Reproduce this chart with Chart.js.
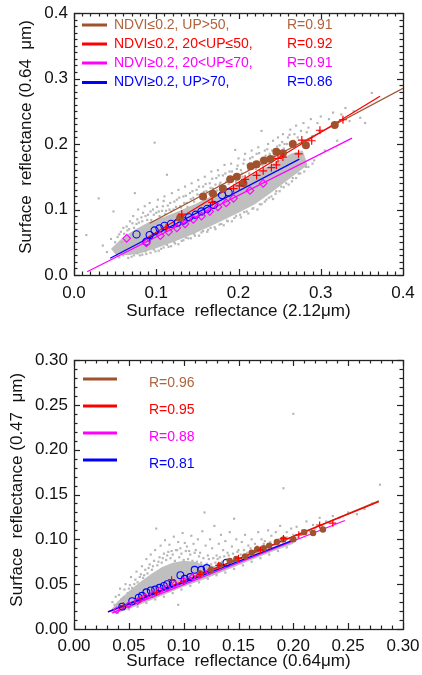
<!DOCTYPE html>
<html><head><meta charset="utf-8">
<script src="https://cdn.jsdelivr.net/npm/chart.js@4.4.1/dist/chart.umd.min.js"></script>
<style>
html,body{margin:0;padding:0;background:#fff;}
#wrap{position:relative;width:422px;height:675px;overflow:hidden;}
#c1{position:absolute;left:0;top:0;}
#c2{position:absolute;left:0;top:337px;}
</style></head><body>
<div id="wrap"><canvas id="c1" width="422" height="337"></canvas><canvas id="c2" width="422" height="338"></canvas></div>
<script>
// ---------------- DATA: top panel (0.64 vs 2.12 um) ----------------
const topXTicks = [0, 0.1, 0.2, 0.3, 0.4];
const topXTickLabels = ['0.0', '0.1', '0.2', '0.3', '0.4'];
const topYTicks = [0, 0.1, 0.2, 0.3, 0.4];
const topYTickLabels = ['0.0', '0.1', '0.2', '0.3', '0.4'];
const topXTitle = 'Surface  reflectance (2.12\u03bcm)';
const topYTitle = '\u00a0\u00a0\u00a0Surface  reflectance (0.64  \u03bcm)';
const topLegendLabels = ['NDVI\u22640.2, UP>50,', 'NDVI\u22640.2, 20<UP\u226450,', 'NDVI\u22650.2, 20<UP\u226470,', 'NDVI\u22650.2, UP>70,'];
const topLegendR = ['R=0.91', 'R=0.92', 'R=0.91', 'R=0.86'];

// dense core of the grey cloud (outline)
const topCore = [[0.045,0.040],[0.06,0.058],[0.075,0.070],[0.09,0.080],[0.11,0.089],[0.13,0.099],[0.15,0.110],[0.17,0.122],[0.19,0.134],[0.21,0.148],[0.23,0.162],[0.25,0.176],[0.265,0.186],[0.278,0.19],
  [0.284,0.168],[0.26,0.145],[0.24,0.126],[0.22,0.108],[0.20,0.095],[0.18,0.083],[0.16,0.071],[0.14,0.060],[0.12,0.050],[0.10,0.041],[0.08,0.033],[0.065,0.030],[0.05,0.032]];
// scattered grey pixels (outer)
const topGray = [[0.015,0.061],[0.03,0.117],[0.035,0.045],[0.04,0.035],[0.045,0.055],[0.048,0.097],[0.052,0.03],[0.055,0.062],[0.058,0.05],[0.06,0.072],
  [0.062,0.038],[0.065,0.068],[0.068,0.082],[0.07,0.028],[0.072,0.09],[0.074,0.125],[0.076,0.078],[0.078,0.1],[0.08,0.03],[0.082,0.088],[0.084,0.095],[0.086,0.105],[0.088,0.032],[0.09,0.092],[0.092,0.11],[0.094,0.084],[0.096,0.1],[0.098,0.202],[0.099,0.036],
  [0.1,0.095],[0.102,0.115],[0.104,0.09],[0.106,0.04],[0.108,0.105],[0.11,0.12],[0.112,0.098],[0.113,0.153],[0.115,0.043],[0.117,0.11],[0.119,0.125],[0.121,0.1],[0.123,0.048],[0.125,0.115],[0.127,0.13],[0.129,0.105],[0.131,0.052],[0.133,0.12],[0.135,0.135],[0.137,0.11],[0.139,0.056],
  [0.141,0.125],[0.143,0.14],[0.145,0.118],[0.147,0.06],[0.149,0.13],[0.151,0.145],[0.153,0.122],[0.155,0.065],[0.157,0.135],[0.159,0.15],[0.161,0.128],[0.163,0.069],[0.165,0.14],[0.167,0.158],[0.169,0.132],[0.171,0.073],[0.173,0.148],[0.175,0.16],[0.177,0.138],[0.179,0.078],[0.181,0.152],[0.183,0.168],[0.185,0.142],[0.187,0.082],[0.189,0.158],[0.191,0.17],[0.193,0.145],[0.195,0.087],[0.196,0.191],[0.198,0.162],
  [0.2,0.178],[0.202,0.092],[0.204,0.155],[0.206,0.17],[0.208,0.185],[0.21,0.097],[0.212,0.162],[0.214,0.178],[0.216,0.19],[0.218,0.102],[0.22,0.168],[0.222,0.185],[0.224,0.195],[0.226,0.108],[0.228,0.22],[0.23,0.178],[0.232,0.19],[0.234,0.115],[0.236,0.2],[0.238,0.185],[0.24,0.12],[0.242,0.205],[0.244,0.192],[0.246,0.128],[0.248,0.21],[0.25,0.198],[0.252,0.135],[0.254,0.215],[0.256,0.2],[0.258,0.14],
  [0.26,0.21],[0.263,0.222],[0.266,0.148],[0.268,0.215],[0.27,0.228],[0.273,0.155],[0.276,0.22],[0.279,0.232],[0.282,0.165],[0.285,0.225],[0.288,0.238],[0.292,0.175],[0.296,0.232],[0.3,0.242],[0.305,0.19],[0.31,0.238],[0.315,0.248],[0.32,0.205],[0.325,0.245],[0.33,0.255],[0.335,0.235],[0.34,0.25],[0.348,0.24],[0.354,0.232],[0.362,0.278]];
// scattered grey pixels (fringe of the core)
const topGrayFringe = [[0.05,0.05],[0.053,0.058],[0.057,0.066],[0.061,0.063],[0.064,0.074],[0.067,0.07],[0.071,0.079],[0.073,0.072],[0.077,0.085],[0.079,0.08],[0.083,0.082],[0.087,0.09],[0.089,0.084],[0.093,0.097],[0.097,0.092],[0.101,0.104],[0.103,0.097],[0.107,0.098],[0.109,0.113],[0.111,0.093],[0.114,0.106],[0.116,0.1],[0.118,0.097],[0.122,0.112],[0.124,0.104],[0.128,0.118],[0.13,0.103],[0.134,0.11],[0.136,0.121],[0.138,0.104],[0.142,0.116],[0.144,0.128],[0.146,0.112],[0.15,0.123],[0.152,0.135],[0.154,0.117],[0.158,0.127],[0.16,0.139],[0.164,0.124],[0.166,0.133],[0.168,0.147],[0.172,0.138],[0.174,0.129],[0.176,0.152],[0.178,0.141],[0.182,0.135],[0.184,0.155],[0.186,0.146],[0.188,0.139],[0.192,0.158],[0.194,0.149],[0.197,0.142],[0.199,0.167],[0.203,0.16],[0.205,0.15],[0.207,0.176],[0.211,0.168],[0.213,0.155],[0.217,0.18],[0.219,0.172],[0.221,0.162],[0.225,0.186],[0.227,0.176],[0.229,0.168],[0.233,0.182],[0.235,0.192],[0.237,0.175],[0.241,0.19],[0.243,0.182],[0.247,0.196],[0.249,0.188],[0.253,0.203],[0.255,0.193],[0.259,0.2],[0.262,0.214],[0.267,0.205],[0.272,0.21],[0.278,0.205],[0.283,0.218],[0.29,0.212],[0.298,0.22],
  [0.055,0.027],[0.06,0.03],[0.066,0.026],[0.073,0.03],[0.077,0.033],[0.083,0.031],[0.087,0.036],[0.093,0.034],[0.097,0.039],[0.103,0.037],[0.109,0.042],[0.113,0.046],[0.118,0.044],[0.122,0.05],[0.127,0.047],[0.133,0.053],[0.136,0.057],[0.142,0.056],[0.146,0.063],[0.152,0.06],[0.157,0.067],[0.162,0.066],[0.166,0.072],[0.172,0.07],[0.177,0.077],[0.182,0.076],[0.186,0.083],[0.192,0.082],[0.197,0.09],[0.203,0.088],[0.207,0.096],[0.212,0.094],[0.217,0.101],[0.223,0.1],[0.228,0.108],[0.232,0.112],[0.237,0.118],[0.242,0.116],[0.245,0.124],[0.25,0.128],[0.255,0.134],[0.261,0.138],[0.265,0.143],[0.27,0.148],[0.275,0.155],[0.28,0.158],[0.285,0.165],[0.29,0.17]];
const topBrownPts = [[0.129,0.087],[0.157,0.120],[0.169,0.124],[0.181,0.132],[0.190,0.146],[0.198,0.150],[0.206,0.140],[0.215,0.166],[0.222,0.169],[0.231,0.175],[0.239,0.177],[0.246,0.188],[0.254,0.186],[0.266,0.200],[0.282,0.198],[0.317,0.229]];
const topRedPts = [[0.112,0.072],[0.131,0.093],[0.168,0.111],[0.194,0.132],[0.201,0.136],[0.208,0.146],[0.222,0.152],[0.230,0.159],[0.240,0.164],[0.246,0.168],[0.248,0.178],[0.254,0.180],[0.273,0.185],[0.277,0.206],[0.289,0.205],[0.299,0.221],[0.327,0.237]];
const topMagentaPts = [[0.064,0.056],[0.088,0.049],[0.105,0.060],[0.115,0.066],[0.125,0.072],[0.135,0.078],[0.145,0.085],[0.155,0.090],[0.165,0.097],[0.175,0.104],[0.185,0.110],[0.194,0.117],[0.214,0.129],[0.230,0.140]];
const topBluePts = [[0.076,0.062],[0.088,0.051],[0.092,0.061],[0.098,0.068],[0.104,0.071],[0.110,0.075],[0.118,0.078],[0.126,0.080],[0.133,0.083],[0.140,0.088],[0.148,0.092],[0.155,0.097],[0.162,0.101],[0.170,0.107],[0.180,0.122],[0.188,0.126]];
const topBrownFit = [[0.092,0.079],[0.4,0.285]];
const topRedFit = [[0.084,0.053],[0.372,0.273]];
const topMagentaFit = [[0.016,0.005],[0.338,0.209]];
const topBlueFit = [[0.044,0.0255],[0.274,0.177]];

// ---------------- DATA: bottom panel (0.47 vs 0.64 um) ----------------
const botXTicks = [0, 0.05, 0.10, 0.15, 0.20, 0.25, 0.30];
const botXTickLabels = ['0.00', '0.05', '0.10', '0.15', '0.20', '0.25', '0.30'];
const botYTicks = [0, 0.05, 0.10, 0.15, 0.20, 0.25, 0.30];
const botYTickLabels = ['0.00', '0.05', '0.10', '0.15', '0.20', '0.25', '0.30'];
const botXTitle = 'Surface  reflectance (0.64\u03bcm)';
const botYTitle = '\u00a0\u00a0Surface  reflectance (0.47  \u03bcm)';
const botLegendR = ['R=0.96', 'R=0.95', 'R=0.88', 'R=0.81'];

const botCore = [[0.033,0.020],[0.04,0.031],[0.05,0.042],[0.06,0.052],[0.07,0.061],[0.08,0.069],[0.09,0.074],[0.10,0.076],[0.11,0.075],[0.12,0.071],[0.13,0.070],[0.14,0.073],[0.16,0.082],[0.18,0.091],[0.20,0.100],
  [0.20,0.095],[0.18,0.086],[0.16,0.076],[0.14,0.066],[0.12,0.056],[0.10,0.047],[0.08,0.037],[0.06,0.027],[0.045,0.020],[0.035,0.017]];
const botGray = [[0.035,0.03],[0.038,0.036],[0.04,0.028],[0.042,0.045],[0.045,0.035],[0.047,0.05],[0.05,0.045],[0.052,0.058],[0.055,0.05],[0.057,0.064],[0.06,0.058],
  [0.062,0.07],[0.064,0.06],[0.066,0.078],[0.068,0.068],[0.07,0.083],[0.072,0.07],[0.074,0.088],[0.075,0.112],[0.077,0.075],[0.079,0.093],[0.081,0.079],[0.083,0.099],[0.085,0.082],[0.087,0.094],[0.089,0.087],[0.091,0.103],[0.093,0.088],[0.095,0.027],[0.095,0.097],[0.097,0.09],[0.099,0.107],
  [0.101,0.096],[0.103,0.092],[0.105,0.087],[0.107,0.104],[0.109,0.095],[0.111,0.088],[0.113,0.1],[0.115,0.085],[0.117,0.109],[0.119,0.13],[0.12,0.093],[0.122,0.082],[0.124,0.1],[0.126,0.09],[0.128,0.115],[0.13,0.082],[0.132,0.095],[0.134,0.105],[0.136,0.088],[0.138,0.098],[0.14,0.085],[0.142,0.108],[0.144,0.092],[0.146,0.123],[0.148,0.1],
  [0.15,0.088],[0.153,0.097],[0.156,0.105],[0.159,0.093],[0.162,0.1],[0.165,0.095],[0.168,0.108],[0.171,0.1],[0.174,0.098],[0.177,0.11],[0.18,0.104],[0.184,0.108],[0.188,0.115],[0.191,0.157],[0.194,0.108],[0.198,0.112],[0.2,0.24],[0.203,0.114],[0.208,0.11],[0.212,0.12],[0.218,0.116],[0.224,0.124],[0.23,0.12],[0.236,0.126],[0.242,0.124],[0.25,0.13],[0.258,0.128],[0.265,0.134],[0.272,0.14],[0.279,0.161]];
const botGrayFringe = [[0.037,0.027],[0.041,0.038],[0.043,0.033],[0.046,0.044],[0.049,0.04],[0.051,0.049],[0.053,0.046],[0.056,0.055],[0.058,0.052],[0.061,0.061],[0.063,0.057],[0.065,0.066],[0.067,0.062],[0.069,0.072],[0.071,0.066],[0.073,0.076],[0.076,0.071],[0.078,0.08],[0.08,0.074],[0.082,0.084],[0.084,0.077],[0.086,0.086],[0.088,0.079],[0.09,0.083],[0.092,0.076],[0.094,0.088],[0.096,0.08],[0.098,0.084],[0.1,0.077],[0.102,0.087],[0.104,0.078],[0.106,0.083],[0.108,0.076],[0.11,0.085],[0.112,0.075],[0.114,0.081],[0.116,0.074],[0.118,0.079],[0.121,0.073],[0.123,0.078],[0.125,0.072],[0.127,0.079],[0.129,0.074],[0.131,0.078],[0.133,0.08],[0.135,0.075],[0.137,0.081],[0.139,0.077],[0.141,0.082],[0.143,0.078],[0.145,0.084],[0.147,0.08],[0.149,0.086],[0.152,0.083],[0.155,0.088],[0.158,0.085],[0.161,0.09],[0.164,0.087],[0.167,0.092],[0.17,0.089],[0.173,0.095],[0.176,0.092],[0.179,0.097],[0.183,0.094],[0.187,0.1],[0.19,0.097],[0.194,0.102],[0.197,0.099],[0.2,0.105],[0.204,0.102],[0.21,0.107],[0.215,0.109],[0.22,0.112],[0.226,0.114],[0.233,0.118],
  [0.04,0.018],[0.05,0.022],[0.058,0.025],[0.066,0.029],[0.074,0.033],[0.082,0.036],[0.09,0.04],[0.098,0.044],[0.106,0.048],[0.114,0.052],[0.122,0.056],[0.13,0.06],[0.138,0.063],[0.146,0.067],[0.154,0.071],[0.162,0.075],[0.17,0.079],[0.178,0.083],[0.186,0.087],[0.194,0.091]];
const botBrownPts = [[0.115,0.062],[0.125,0.066],[0.133,0.071],[0.142,0.076],[0.148,0.078],[0.156,0.081],[0.162,0.085],[0.167,0.089],[0.173,0.090],[0.178,0.093],[0.185,0.097],[0.191,0.100],[0.200,0.100],[0.210,0.108],[0.218,0.107],[0.227,0.111]];
const botRedPts = [[0.045,0.026],[0.06,0.033],[0.075,0.041],[0.089,0.055],[0.1,0.053],[0.115,0.061],[0.132,0.071],[0.150,0.079],[0.170,0.088],[0.191,0.101],[0.205,0.105],[0.224,0.116],[0.236,0.118]];
const botMagentaPts = [[0.039,0.021],[0.050,0.027],[0.058,0.031],[0.065,0.036],[0.072,0.039],[0.078,0.043],[0.085,0.046],[0.092,0.050],[0.100,0.054],[0.108,0.058],[0.115,0.061],[0.123,0.064]];
const botBluePts = [[0.044,0.025],[0.053,0.031],[0.059,0.035],[0.062,0.037],[0.066,0.041],[0.070,0.043],[0.074,0.044],[0.078,0.046],[0.082,0.048],[0.085,0.050],[0.090,0.051],[0.097,0.060],[0.101,0.056],[0.106,0.058],[0.110,0.066],[0.116,0.066],[0.121,0.068],[0.139,0.074]];
const botBrownFit = [[0.04,0.022],[0.278,0.143]];
const botRedFit = [[0.031,0.019],[0.278,0.142]];
const botMagentaFit = [[0.035,0.018],[0.247,0.121]];
const botBlueFit = [[0.031,0.019],[0.2,0.099]];

// ---------------- styling ----------------
const FONT = "'Liberation Sans', Arial, Helvetica, sans-serif";
const BROWN = '#a0522d', BROWN_TXT = '#b0643e', RED = '#ff0000', MAG = '#ff00ff', BLUE = '#0000ff', GRAY = '#bfbfbf';
const xy = a => a.map(p => ({x: p[0], y: p[1]}));

function datasets(core, gray, fringe, br, rd, mg, bl, fbr, frd, fmg, fbl, big) {
  const r = big ? 4 : 3.2;
  return [
    {data: xy(core), showLine: true, fill: 'shape', backgroundColor: GRAY, borderWidth: 0, pointRadius: 0, order: 20},
    {data: xy(gray), pointStyle: 'rect', pointRadius: 1.5, pointBackgroundColor: '#b3b3b3', pointBorderWidth: 0, order: 19},
    {data: xy(fringe), pointStyle: 'rect', pointRadius: 1.6, pointBackgroundColor: '#b9b9b9', pointBorderWidth: 0, order: 18},
    {data: xy(fbr), showLine: true, borderColor: BROWN, borderWidth: 1.3, pointRadius: 0, order: 8},
    {data: xy(frd), showLine: true, borderColor: RED, borderWidth: 1.3, pointRadius: 0, order: 7},
    {data: xy(fmg), showLine: true, borderColor: MAG, borderWidth: 1.3, pointRadius: 0, order: 6},
    {data: xy(fbl), showLine: true, borderColor: BLUE, borderWidth: 1.3, pointRadius: 0, order: 5},
    {data: xy(bl), pointStyle: 'circle', pointRadius: big ? 3.6 : 3.4, pointBackgroundColor: 'rgba(0,0,0,0)', pointBorderColor: BLUE, pointBorderWidth: 1.1, order: 4},
    {data: xy(mg), pointStyle: 'rectRot', pointRadius: big ? 3.8 : 3.2, pointBackgroundColor: 'rgba(0,0,0,0)', pointBorderColor: MAG, pointBorderWidth: 1.1, order: 3},
    {data: xy(br), pointStyle: 'circle', pointRadius: r, pointBackgroundColor: BROWN, pointBorderColor: BROWN, pointBorderWidth: 0, order: 2},
    {data: xy(rd), pointStyle: 'cross', pointRadius: big ? 4 : 3.5, pointBorderColor: RED, pointBorderWidth: 1.2, order: 1},
  ];
}

const idlAxes = {
  id: 'idlAxes',
  afterDatasetsDraw(chart, args, o) {
    const {ctx, chartArea: a, scales: {x, y}} = chart;
    ctx.save();
    ctx.strokeStyle = '#222';
    ctx.lineWidth = 1.2;
    const line = (x1, y1, x2, y2) => { ctx.beginPath(); ctx.moveTo(x1, y1); ctx.lineTo(x2, y2); ctx.stroke(); };
    const n = Math.round((x.max - x.min) / o.xMinor);
    for (let i = 0; i <= n; i++) {
      const v = x.min + i * o.xMinor;
      const major = o.xMajor.some(m => Math.abs(m - v) < 1e-9);
      const L = major ? o.majorLen : o.minorLen;
      const px = Math.round(x.getPixelForValue(v)) + 0.5;
      line(px, a.bottom, px, a.bottom - L);
      line(px, a.top, px, a.top + L);
    }
    const m = Math.round((y.max - y.min) / o.yMinor);
    for (let i = 0; i <= m; i++) {
      const v = y.min + i * o.yMinor;
      const major = o.yMajor.some(t => Math.abs(t - v) < 1e-9);
      const L = major ? o.majorLen : o.minorLen;
      const py = Math.round(y.getPixelForValue(v)) + 0.5;
      line(a.left, py, a.left + L, py);
      line(a.right, py, a.right - L, py);
    }
    ctx.lineWidth = 1.3;
    ctx.strokeRect(Math.round(a.left) + 0.5, Math.round(a.top) + 0.5, Math.round(a.right - a.left), Math.round(a.bottom - a.top));
    ctx.restore();
  }
};

const keyPlugin = {
  id: 'key',
  afterDraw(chart, args, o) {
    const ctx = chart.ctx;
    ctx.save();
    ctx.font = '14px ' + FONT;
    ctx.textBaseline = 'middle';
    o.items.forEach((it, i) => {
      const yy = o.rows[i];
      ctx.strokeStyle = it.color;
      ctx.lineWidth = 3;
      ctx.beginPath(); ctx.moveTo(o.x0, yy); ctx.lineTo(o.x1, yy); ctx.stroke();
      ctx.fillStyle = it.text;
      if (it.label) ctx.fillText(it.label, o.tx, yy + o.dy);
      ctx.fillText(it.r, o.rx, yy + o.dy);
    });
    ctx.restore();
  }
};

function makeChart(id, cfg) {
  const tickFont = {family: FONT, size: 17};
  return new Chart(document.getElementById(id), {
    type: 'scatter',
    data: {datasets: cfg.ds},
    options: {
      responsive: false, animation: false, events: [],
      layout: {padding: cfg.pad},
      plugins: {legend: {display: false}, tooltip: {enabled: false}, idlAxes: cfg.axes, key: cfg.key},
      scales: {
        x: {type: 'linear', min: cfg.xMin, max: cfg.xMax,
          afterBuildTicks: s => { s.ticks = cfg.xTicks.map(v => ({value: v})); },
          afterFit: s => { s.height = cfg.xH; s.paddingLeft = 0; s.paddingRight = 0; },
          ticks: {callback: (v, i) => cfg.xLabels[i], font: tickFont, color: '#111', padding: cfg.xTickPad, maxRotation: 0, autoSkip: false},
          grid: {display: false, drawTicks: false}, border: {display: false},
          title: {display: true, text: cfg.xTitle, font: {family: FONT, size: 17}, color: '#111', padding: {top: 0, bottom: cfg.xTitlePad}}},
        y: {type: 'linear', min: cfg.yMin, max: cfg.yMax,
          afterBuildTicks: s => { s.ticks = cfg.yTicks.map(v => ({value: v})); },
          afterFit: s => { s.width = 74; s.paddingTop = 0; s.paddingBottom = 0; },
          ticks: {callback: (v, i) => cfg.yLabels[i], font: tickFont, color: '#111', padding: 6, autoSkip: false},
          grid: {display: false, drawTicks: false}, border: {display: false},
          title: {display: true, text: cfg.yTitle, font: {family: FONT, size: 17}, color: '#111', padding: {top: cfg.yTitlePad, bottom: 0}}}
      }
    },
    plugins: [idlAxes, keyPlugin]
  });
}

makeChart('c1', {
  ds: datasets(topCore, topGray, topGrayFringe, topBrownPts, topRedPts, topMagentaPts, topBluePts, topBrownFit, topRedFit, topMagentaFit, topBlueFit, true),
  pad: {left: 0, right: 19, top: 13, bottom: 0},
  xMin: 0, xMax: 0.4, yMin: 0, yMax: 0.4,
  xTicks: topXTicks, xLabels: topXTickLabels, yTicks: topYTicks, yLabels: topYTickLabels,
  xTitle: topXTitle, yTitle: topYTitle, xH: 62, xTickPad: 8, xTitlePad: 15, yTitlePad: 16,
  axes: {xMajor: topXTicks, yMajor: topYTicks, xMinor: 0.01, yMinor: 0.01, majorLen: 6, minorLen: 3.5},
  key: {x0: 82, x1: 107, tx: 114, rx: 287, dy: 0, rows: [25, 44, 63, 82.5],
    items: [
      {color: BROWN, text: BROWN_TXT, label: topLegendLabels[0], r: topLegendR[0]},
      {color: RED, text: RED, label: topLegendLabels[1], r: topLegendR[1]},
      {color: MAG, text: MAG, label: topLegendLabels[2], r: topLegendR[2]},
      {color: BLUE, text: BLUE, label: topLegendLabels[3], r: topLegendR[3]}]}
});

makeChart('c2', {
  ds: datasets(botCore, botGray, botGrayFringe, botBrownPts, botRedPts, botMagentaPts, botBluePts, botBrownFit, botRedFit, botMagentaFit, botBlueFit, false),
  pad: {left: 0, right: 19, top: 23, bottom: 0},
  xMin: 0, xMax: 0.3, yMin: 0, yMax: 0.3,
  xTicks: botXTicks, xLabels: botXTickLabels, yTicks: botYTicks, yLabels: botYTickLabels,
  xTitle: botXTitle, yTitle: botYTitle, xH: 46, xTickPad: 7, xTitlePad: 3, yTitlePad: 7,
  axes: {xMajor: botXTicks, yMajor: botYTicks, xMinor: 0.01, yMinor: 0.01, majorLen: 6, minorLen: 3.5},
  key: {x0: 83, x1: 117, tx: 0, rx: 149, dy: 4, rows: [42, 69, 96, 123],
    items: [
      {color: BROWN, text: BROWN_TXT, label: '', r: botLegendR[0]},
      {color: RED, text: RED, label: '', r: botLegendR[1]},
      {color: MAG, text: MAG, label: '', r: botLegendR[2]},
      {color: BLUE, text: BLUE, label: '', r: botLegendR[3]}]}
});
</script>
</body></html>
